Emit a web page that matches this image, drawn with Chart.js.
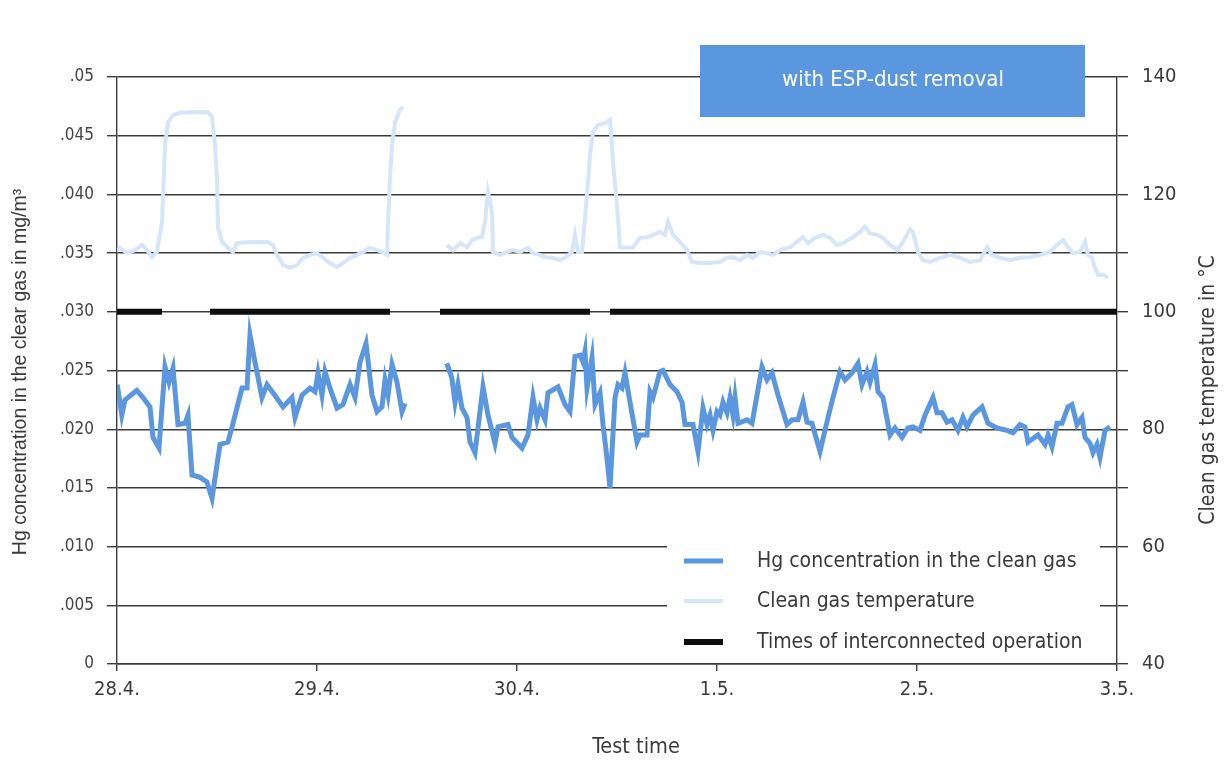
<!DOCTYPE html>
<html lang="en">
<head>
    <meta charset="UTF-8">
    <title>Hg concentration with ESP-dust removal</title>
    <style>
        body { margin: 0; background: #fff; }
        canvas { display: block; }
    </style>
    <script src="https://cdn.jsdelivr.net/npm/chart.js@4.4.2/dist/chart.umd.min.js"></script>
</head>
<body>
    <canvas id="hgChart" width="1225" height="761"></canvas>

    <script>
        // x in days from 28.4. 00:00
        const dayLabels = ["28.4.", "29.4.", "30.4.", "1.5.", "2.5.", "3.5."];
        const hgTickLabels = ["0", ".005", ".010", ".015", ".020", ".025", ".030", ".035", ".040", ".045", ".05"];
        const tempTickLabels = ["40", "", "60", "", "80", "", "100", "", "120", "", "140"];
        const seriesNames = ["Hg concentration in the clean gas", "Clean gas temperature", "Times of interconnected operation"];
        const boxText = "with ESP-dust removal";

        // Hg concentration, mg/m³ (null = no measurement)
        const hgTime = [0.001, 0.024, 0.04, 0.099, 0.13, 0.165, 0.18, 0.21, 0.24, 0.26, 0.28, 0.305, 0.34, 0.355, 0.375, 0.415, 0.45, 0.475, 0.515, 0.555,
            0.58, 0.625, 0.65, 0.665, 0.69, 0.725, 0.75, 0.78, 0.83, 0.875, 0.89, 0.925, 0.965, 0.99, 1.005, 1.025, 1.04, 1.065, 1.1, 1.13,
            1.165, 1.19, 1.215, 1.245, 1.275, 1.3, 1.325, 1.34, 1.355, 1.375, 1.4, 1.425, 1.44, 1.54,
            1.649, 1.674, 1.69, 1.705, 1.725, 1.75, 1.765, 1.79, 1.83, 1.855, 1.89, 1.905, 1.955, 1.975, 2.025, 2.055, 2.08, 2.1, 2.115, 2.14,
            2.155, 2.205, 2.24, 2.265, 2.29, 2.315, 2.33, 2.34, 2.35, 2.375, 2.39, 2.415, 2.43, 2.45, 2.465, 2.49, 2.505, 2.525, 2.54, 2.565,
            2.6, 2.615, 2.65, 2.665, 2.68, 2.715, 2.73, 2.765, 2.8, 2.825, 2.84, 2.88, 2.905, 2.93, 2.95, 2.965, 2.98, 3.0, 3.015, 3.03,
            3.05, 3.065, 3.08, 3.09, 3.105, 3.15, 3.175, 3.225, 3.25, 3.275, 3.305, 3.35, 3.375, 3.405, 3.43, 3.45, 3.475, 3.515, 3.555, 3.58,
            3.615, 3.64, 3.675, 3.705, 3.725, 3.75, 3.765, 3.79, 3.805, 3.83, 3.865, 3.89, 3.925, 3.955, 3.98, 4.015, 4.04, 4.08, 4.1, 4.125,
            4.15, 4.175, 4.205, 4.23, 4.25, 4.28, 4.325, 4.355, 4.4, 4.45, 4.48, 4.515, 4.54, 4.555, 4.605, 4.64, 4.655, 4.675, 4.7, 4.725,
            4.755, 4.775, 4.8, 4.825, 4.84, 4.865, 4.88, 4.9, 4.915, 4.94, 4.965];
        const hgValue = [.0238, .0212, .0225, .0233, .0227, .0219, .0193, .0184, .0253, .0240, .0252, .0204, .0205, .0212, .0161, .0159, .0155, .0141, .0187, .0189,
            .0205, .0235, .0235, .0280, .0257, .0227, .0238, .0231, .0219, .0227, .0210, .0229, .0235, .0232, .0248, .0229, .0249, .0235, .0218, .0221,
            .0238, .0227, .0257, .0273, .0229, .0215, .0219, .0242, .0229, .0255, .0240, .0215, .0222, null,
            .0256, .0244, .0223, .0238, .0218, .0210, .0189, .0180, .0236, .0212, .0188, .0202, .0204, .0193, .0184, .0195, .0227, .0208, .0218, .0208,
            .0231, .0236, .0221, .0215, .0262, .0263, .0257, .0266, .0235, .0261, .0221, .0231, .0204, .0175, .0150, .0227, .0238, .0235, .0248, .0223,
            .0189, .0195, .0195, .0232, .0227, .0249, .0250, .0238, .0232, .0223, .0204, .0204, .0181, .0218, .0204, .0212, .0199, .0215, .0212, .0223,
            .0214, .0227, .0212, .0227, .0205, .0208, .0205, .0253, .0242, .0248, .0229, .0204, .0208, .0208, .0223, .0206, .0205, .0181, .0210, .0227,
            .0249, .0242, .0248, .0256, .0238, .0249, .0240, .0255, .0232, .0227, .0195, .0201, .0193, .0201, .0202, .0199, .0212, .0227, .0214, .0214,
            .0206, .0208, .0199, .0210, .0202, .0212, .0219, .0205, .0201, .0199, .0197, .0204, .0202, .0189, .0195, .0187, .0195, .0185, .0205, .0205,
            .0219, .0221, .0204, .0210, .0193, .0188, .0180, .0187, .0176, .0199, .0202];

        // clean gas temperature, °C
        const tempTime = [0, 0.015, 0.05, 0.09, 0.125, 0.15, 0.175, 0.2, 0.225, 0.24, 0.255, 0.28, 0.315, 0.365, 0.415, 0.455, 0.475, 0.49, 0.5, 0.505,
            0.525, 0.555, 0.58, 0.6, 0.665, 0.75, 0.78, 0.8, 0.83, 0.865, 0.9, 0.93, 0.965, 1.0, 1.03, 1.065, 1.1, 1.13, 1.165, 1.2,
            1.23, 1.265, 1.3, 1.325, 1.35, 1.355, 1.365, 1.375, 1.39, 1.415, 1.43, 1.53,
            1.65, 1.68, 1.715, 1.75, 1.775, 1.8, 1.825, 1.84, 1.855, 1.875, 1.88, 1.915, 1.95, 1.98, 2.015, 2.055, 2.08, 2.115, 2.15, 2.18,
            2.215, 2.24, 2.275, 2.29, 2.305, 2.325, 2.35, 2.365, 2.38, 2.405, 2.45, 2.465, 2.48, 2.5, 2.515, 2.55, 2.58, 2.615, 2.65, 2.68,
            2.715, 2.74, 2.755, 2.78, 2.815, 2.85, 2.875, 2.915, 2.965, 3.015, 3.05, 3.08, 3.115, 3.15, 3.18, 3.215, 3.25, 3.28, 3.315, 3.365,
            3.4, 3.43, 3.455, 3.49, 3.53, 3.565, 3.6, 3.63, 3.675, 3.715, 3.74, 3.765, 3.8, 3.83, 3.865, 3.9, 3.93, 3.965, 3.98, 4.005,
            4.03, 4.065, 4.115, 4.165, 4.215, 4.265, 4.315, 4.35, 4.375, 4.415, 4.465, 4.515, 4.565, 4.615, 4.665, 4.7, 4.73, 4.755, 4.78, 4.815,
            4.84, 4.855, 4.875, 4.89, 4.905, 4.93, 4.955];
        const tempValue = [110.5, 110.9, 110, 110.5, 111.4, 110.5, 109.3, 110.2, 115.3, 128.4, 132.3, 133.5, 133.9, 134, 134, 134, 133.2, 128.4, 122.8, 114.3,
            111.9, 110.9, 110.2, 111.7, 111.9, 111.9, 111.4, 109.7, 108, 107.5, 108, 109.2, 109.7, 110, 109.2, 108.3, 107.6, 108.3, 109.2, 109.7,
            110.2, 110.9, 110.5, 110.2, 109.7, 115.3, 122.8, 128.4, 132.3, 134.4, 134.9, null,
            111.4, 110.5, 111.7, 111, 112.2, 112.6, 112.7, 115.3, 120.4, 117, 110.2, 109.7, 110.2, 110.5, 110.2, 110.9, 110, 109.7, 109.2, 109.2,
            108.8, 109.2, 110.2, 113.1, 110.2, 110.2, 119.9, 126.7, 130.6, 131.8, 132.3, 132.7, 125.5, 118.2, 111, 110.9, 111, 112.6, 112.7, 113.1,
            113.6, 113.1, 115.3, 113.1, 111.9, 110.5, 108.5, 108.3, 108.3, 108.5, 109.2, 109.3, 108.8, 109.7, 109.2, 110.2, 110, 109.7, 110.5, 111,
            111.9, 112.7, 111.7, 112.6, 113.1, 112.6, 111.4, 111.7, 112.6, 113.6, 114.5, 113.4, 113.1, 112.6, 111.4, 110.5, 111.9, 114, 113.6, 110.2,
            108.8, 108.5, 109.2, 109.7, 109.2, 108.5, 108.8, 111, 109.7, 109.2, 108.8, 109.2, 109.3, 109.7, 110.2, 111.4, 112.2, 111, 110, 110.2,
            111.9, 109.7, 109.2, 107.5, 106.3, 106.3, 105.8];

        // interconnected operation periods (days), drawn at the .030 level
        const opStart = [0, 0.465, 1.615, 2.465];
        const opEnd = [0.225, 1.365, 2.365, 5.0];
        const opLevel = 0.030;

        const narrow = "'Liberation Sans Narrow', 'DejaVu Sans Condensed', sans-serif";
        const textColor = '#3a3a3a';
        const gridColor = '#3c3c3c';

        const hgData = hgTime.map((t, i) => ({ x: t, y: hgValue[i] }));
        const tempData = tempTime.map((t, i) => ({ x: t, y: tempValue[i] }));
        const opData = [];
        opStart.forEach((s, i) => {
            opData.push({ x: s, y: opLevel }, { x: opEnd[i], y: opLevel });
            if (i < opStart.length - 1) opData.push({ x: (opEnd[i] + opStart[i + 1]) / 2, y: null });
        });

        // legend, info box and axis titles
        const decorPlugin = {
            id: 'decor',
            afterDraw(chart) {
                const ctx = chart.ctx;
                ctx.save();

                // white legend panel over the grid
                ctx.fillStyle = '#fff';
                ctx.fillRect(667, 532, 433, 125);
                const rows = [561, 601, 642];
                chart.data.datasets.forEach((ds, i) => {
                    ctx.strokeStyle = ds.borderColor;
                    ctx.lineWidth = ds.borderWidth;
                    ctx.beginPath();
                    ctx.moveTo(684, rows[i]);
                    ctx.lineTo(723, rows[i]);
                    ctx.stroke();
                    ctx.fillStyle = textColor;
                    ctx.font = "21px " + narrow;
                    ctx.textBaseline = 'middle';
                    ctx.textAlign = 'left';
                    ctx.fillText(ds.label, 757, rows[i] + 1);
                });

                // blue info box
                ctx.fillStyle = '#5b97de';
                ctx.fillRect(700, 45, 385, 72);
                ctx.fillStyle = '#fff';
                ctx.font = "22px " + narrow;
                ctx.textAlign = 'center';
                ctx.textBaseline = 'middle';
                ctx.fillText(boxText, 893, 80);

                // axis titles
                ctx.fillStyle = textColor;
                ctx.font = "21.5px " + narrow;
                ctx.fillText("Test time", 636, 747);

                ctx.save();
                ctx.translate(21, 372);
                ctx.rotate(-Math.PI / 2);
                ctx.font = "19.5px 'Liberation Sans', Arial, sans-serif";
                ctx.fillText("Hg concentration in the clear gas in mg/m³", 0, 0);
                ctx.restore();

                ctx.save();
                ctx.translate(1209, 390);
                ctx.rotate(-Math.PI / 2);
                ctx.font = "21px " + narrow;
                ctx.fillText("Clean gas temperature in °C", 0, 0);
                ctx.restore();

                ctx.restore();
            }
        };

        new Chart(document.getElementById('hgChart'), {
            type: 'line',
            data: {
                datasets: [
                    { label: seriesNames[0], data: hgData, yAxisID: 'y', borderColor: '#5b97de', borderWidth: 5, order: 1 },
                    { label: seriesNames[1], data: tempData, yAxisID: 'y1', borderColor: '#d6e6f8', borderWidth: 4, order: 2 },
                    { label: seriesNames[2], data: opData, yAxisID: 'y', borderColor: '#0d0d0d', borderWidth: 6, borderCapStyle: 'butt', order: 3 }
                ]
            },
            options: {
                responsive: false,
                animation: false,
                spanGaps: false,
                elements: { point: { radius: 0 }, line: { tension: 0 } },
                layout: { padding: { top: 77, left: 0, right: 0, bottom: 0 } },
                plugins: { legend: { display: false }, tooltip: { enabled: false } },
                scales: {
                    x: {
                        type: 'linear', min: 0, max: 5,
                        afterFit: s => { s.height = 97; },
                        ticks: { stepSize: 1, padding: 7, color: textColor, font: { family: narrow, size: 20 },
                            callback: (v, i) => dayLabels[i] },
                        grid: { drawOnChartArea: false, color: gridColor, tickLength: 7, lineWidth: 1.4 },
                        border: { color: gridColor, width: 1.6 }
                    },
                    y: {
                        position: 'left', min: 0, max: 0.05,
                        afterFit: s => { s.width = 117; },
                        ticks: { stepSize: 0.005, padding: 13, color: '#444', font: { family: narrow, size: 17 },
                            callback: (v, i) => hgTickLabels[i] },
                        grid: { color: gridColor, tickLength: 10, lineWidth: 1.4 },
                        border: { color: gridColor, width: 1.4 }
                    },
                    y1: {
                        position: 'right', min: 40, max: 140,
                        afterFit: s => { s.width = 108; },
                        ticks: { stepSize: 10, padding: 14, color: textColor, font: { family: narrow, size: 20 },
                            callback: (v, i) => tempTickLabels[i] },
                        grid: { drawOnChartArea: false, color: gridColor, tickLength: 11, lineWidth: 1.4 },
                        border: { color: gridColor, width: 1.4 }
                    }
                }
            },
            plugins: [decorPlugin]
        });
    </script>
</body>
</html>
